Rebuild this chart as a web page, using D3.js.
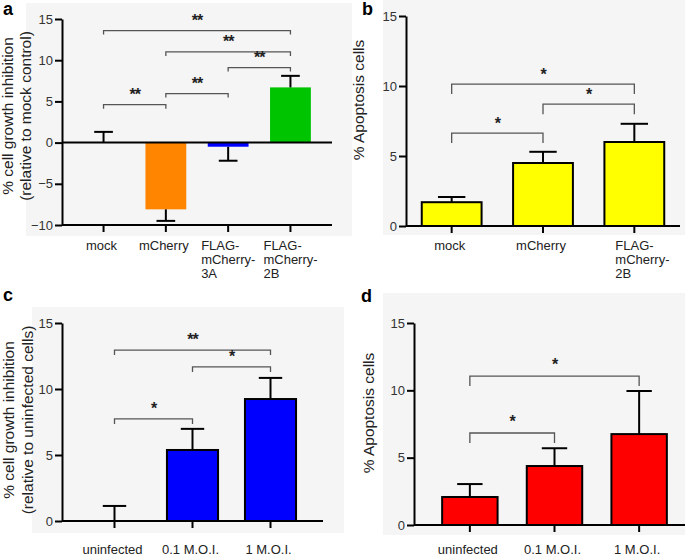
<!DOCTYPE html>
<html>
<head>
<meta charset="utf-8">
<script src="https://cdn.jsdelivr.net/npm/d3@7"></script>
<style>
  html, body { margin: 0; padding: 0; background: #ffffff; }
  svg { display: block; font-family: "Liberation Sans", Arial, sans-serif; }
</style>
</head>
<body>
<svg id="chart" width="685" height="556"></svg>
<script>
// ---------- data ----------
const catsA = [["mock"], ["mCherry"], ["FLAG-", "mCherry-", "3A"], ["FLAG-", "mCherry-", "2B"]];
const valsA = [0, -8.1, -0.5, 6.7];
const errA = [1.3, 1.4, 1.7, 1.4];
const sigA = [[0, 3, 13.6, "**"], [1, 3, 11.0, "**"], [2, 3, 9.1, "**"], [1, 2, 5.95, "**"], [0, 1, 4.6, "**"]];
const ticksA = [-10, -5, 0, 5, 10, 15];

const catsB = [["mock"], ["mCherry"], ["FLAG-", "mCherry-", "2B"]];
const valsB = [1.7, 4.5, 6.0];
const errB = [0.37, 0.8, 1.3];
const sigB = [[0, 2, 10.14, "*"], [1, 2, 8.7, "*"], [0, 1, 6.64, "*"]];
const ticksB = [0, 5, 10, 15];

const catsC = [["uninfected"], ["0.1 M.O.I."], ["1 M.O.I."]];
const valsC = [0, 5.38, 9.24];
const errC = [1.14, 1.6, 1.6];
const sigC = [[0, 2, 12.95, "**"], [1, 2, 11.67, "*"], [0, 1, 7.73, "*"]];
const ticksC = [0, 5, 10, 15];

const catsD = [["uninfected"], ["0.1 M.O.I."], ["1 M.O.I."]];
const valsD = [2.08, 4.38, 6.75];
const errD = [0.96, 1.32, 3.2];
const sigD = [[0, 2, 11.06, "*"], [0, 1, 6.83, "*"]];
const ticksD = [0, 5, 10, 15];

// ---------- layout / style ----------
const panels = [
  { letter: "a", lx: 3, ly: 15, cats: catsA, vals: valsA, errs: errA, sig: sigA, ticks: ticksA,
    bg: [26, 3, 352, 236], x0: 62, x1: 332, pad: 0.667, yTop: 19, yBot: 225, dom: [-10, 15],
    colors: ["#ff8500", "#ff8500", "#0000ff", "#00c400"], outline: false, zeroLine: true,
    titles: ["% cell growth inhibition", "(relative to mock control)"], tx: [13, 31], ty: 116,
    labelBase: 250, lineH: 14, multiDx: -27, drop: 4, starUp: 13 },
  { letter: "b", lx: 362, ly: 15, cats: catsB, vals: valsB, errs: errB, sig: sigB, ticks: ticksB,
    bg: [383, 0, 685, 235], x0: 406, x1: 680, pad: 0.5, yTop: 16, yBot: 226, dom: [0, 15],
    colors: ["#ffff00", "#ffff00", "#ffff00"], outline: true, zeroLine: false,
    titles: ["% Apoptosis cells"], tx: [364], ty: 100,
    labelBase: 250, lineH: 14, multiDx: -19, drop: 10, starUp: 12 },
  { letter: "c", lx: 3, ly: 301, cats: catsC, vals: valsC, errs: errC, sig: sigC, ticks: ticksC,
    bg: [32, 307, 344, 533], x0: 62, x1: 323, pad: 0.673, yTop: 323, yBot: 521, dom: [0, 15],
    colors: ["#0000ff", "#0000ff", "#0000ff"], outline: true, zeroLine: false,
    titles: ["% cell growth inhibition", "(relative to uninfected cells)"], tx: [14, 33], ty: 420,
    labelBase: 554, lineH: 14, multiDx: 0, drop: 5, starUp: 13 },
  { letter: "d", lx: 361, ly: 302, cats: catsD, vals: valsD, errs: errD, sig: sigD, ticks: ticksD,
    bg: [383, 293, 685, 535], x0: 414, x1: 695, pad: 0.66, yTop: 323, yBot: 525, dom: [0, 15],
    colors: ["#ff0000", "#ff0000", "#ff0000"], outline: true, zeroLine: false,
    titles: ["% Apoptosis cells"], tx: [374], ty: 413,
    labelBase: 554, lineH: 14, multiDx: 0, drop: 10, starUp: 14 }
];

const svg = d3.select("#chart");

panels.forEach(p => {
  const g = svg.append("g");
  // background
  g.append("rect").attr("x", p.bg[0]).attr("y", p.bg[1])
    .attr("width", p.bg[2] - p.bg[0]).attr("height", p.bg[3] - p.bg[1])
    .attr("fill", "#f5f5f5");

  const idx = p.cats.map((c, i) => i);
  const x = d3.scalePoint().domain(idx).range([p.x0, p.x1]).padding(p.pad);
  const y = d3.scaleLinear().domain(p.dom).range([p.yBot, p.yTop]);
  const step = x.step();
  const bw = step * 0.655;
  const cap = step * 0.3;

  // bars
  g.selectAll(".bar").data(p.vals).join("rect")
    .attr("x", (d, i) => x(i) - bw / 2)
    .attr("y", d => Math.min(y(d), y(0)))
    .attr("width", bw)
    .attr("height", d => Math.abs(y(d) - y(0)))
    .attr("fill", (d, i) => p.colors[i])
    .attr("stroke", p.outline ? "#000" : "none")
    .attr("stroke-width", p.outline ? 2 : 0);

  // error bars (one-sided, away from zero)
  p.vals.forEach((v, i) => {
    const dir = v < 0 ? -1 : 1;
    const end = v + dir * p.errs[i];
    g.append("line").attr("x1", x(i)).attr("x2", x(i))
      .attr("y1", y(v)).attr("y2", y(end))
      .attr("stroke", "#000").attr("stroke-width", 2);
    g.append("line").attr("x1", x(i) - cap / 2).attr("x2", x(i) + cap / 2)
      .attr("y1", y(end)).attr("y2", y(end))
      .attr("stroke", "#000").attr("stroke-width", 2);
  });

  // zero line (panel a)
  if (p.zeroLine) {
    g.append("line").attr("x1", p.x0).attr("x2", p.x1)
      .attr("y1", y(0)).attr("y2", y(0))
      .attr("stroke", "#000").attr("stroke-width", 2);
  }

  // x axis at bottom of domain
  const xb = y(p.dom[0]);
  g.append("line").attr("x1", p.x0).attr("x2", Math.min(p.x1, 685))
    .attr("y1", xb).attr("y2", xb)
    .attr("stroke", "#000").attr("stroke-width", 2);
  idx.forEach(i => {
    g.append("line").attr("x1", x(i)).attr("x2", x(i))
      .attr("y1", xb).attr("y2", xb + 7)
      .attr("stroke", "#000").attr("stroke-width", 2);
  });

  // y axis
  const ax = g.append("g").attr("transform", `translate(${p.x0},0)`)
    .call(d3.axisLeft(y).tickValues(p.ticks).tickSize(7).tickSizeOuter(0).tickPadding(2).tickFormat(d3.format("d")));
  ax.select(".domain").attr("stroke", "#000").attr("stroke-width", 2);
  ax.selectAll(".tick line").attr("stroke", "#000").attr("stroke-width", 2);
  ax.selectAll(".tick text").attr("font-size", 13).attr("fill", "#333")
    .attr("font-family", "Liberation Sans, Arial, sans-serif");

  // category labels
  p.cats.forEach((lines, i) => {
    const t = g.append("text").attr("font-size", 13).attr("fill", "#222");
    if (lines.length === 1) {
      t.attr("text-anchor", "middle").attr("x", x(i) - 2).attr("y", p.labelBase).text(lines[0]);
    } else {
      t.attr("text-anchor", "start");
      lines.forEach((ln, k) => {
        t.append("tspan").attr("x", x(i) + p.multiDx).attr("y", p.labelBase + k * p.lineH).text(ln);
      });
    }
  });

  // significance brackets
  p.sig.forEach(([a, b, lvl, lab]) => {
    const yy = y(lvl);
    g.append("path")
      .attr("d", `M${x(a)},${yy + p.drop}V${yy}H${x(b)}V${yy + p.drop}`)
      .attr("fill", "none").attr("stroke", "#555").attr("stroke-width", 1.3);
    g.append("text").attr("x", (x(a) + x(b)) / 2).attr("y", yy - p.starUp + 8)
      .attr("text-anchor", "middle").attr("font-size", 16).attr("font-weight", "bold")
      .attr("letter-spacing", "-1").attr("fill", "#222").text(lab);
  });

  // y titles
  p.titles.forEach((tt, k) => {
    g.append("text")
      .attr("transform", `translate(${p.tx[k]},${p.ty}) rotate(-90)`)
      .attr("text-anchor", "middle").attr("font-size", 15.5).attr("fill", "#222")
      .text(tt);
  });

  // panel letter
  g.append("text").attr("x", p.lx).attr("y", p.ly)
    .attr("font-size", 18).attr("font-weight", "bold").attr("fill", "#000")
    .text(p.letter);
});
</script>
</body>
</html>
